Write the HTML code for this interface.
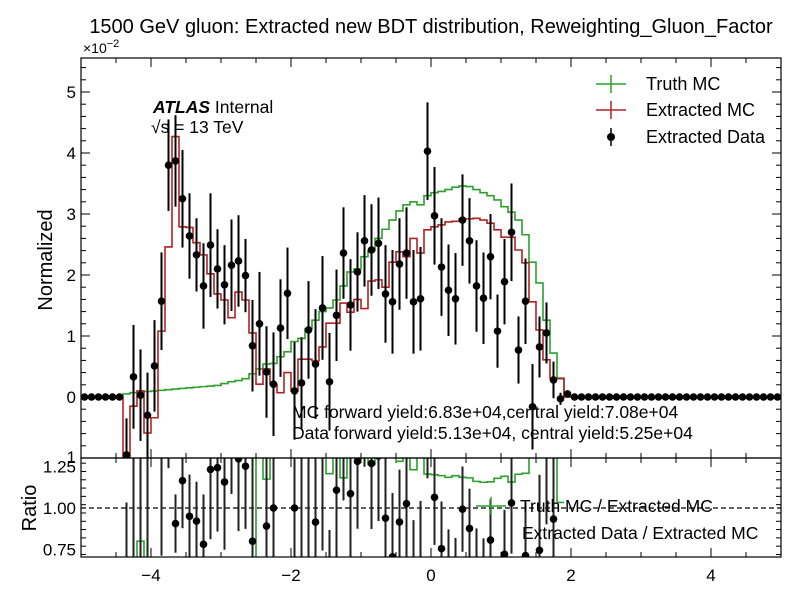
<!DOCTYPE html>
<html><head><meta charset="utf-8">
<style>
html,body{margin:0;padding:0;background:#fff;overflow:hidden;width:799px;height:599px;}
svg{display:block;font-family:"Liberation Sans",sans-serif;}
</style></head>
<body>
<svg id="chart" width="799" height="599" viewBox="0 0 799 599">
<defs>
<clipPath id="cm"><rect x="81" y="58" width="700" height="400"/></clipPath>
<clipPath id="cr"><rect x="81" y="458" width="700" height="99"/></clipPath>
</defs>
<text x="431" y="33" font-size="20" text-anchor="middle">1500 GeV gluon: Extracted new BDT distribution, Reweighting_Gluon_Factor</text>
<text x="83" y="53" font-size="14">×10<tspan dy="-6" font-size="11">−2</tspan></text>
<text transform="translate(52,260) rotate(-90)" font-size="20" text-anchor="middle">Normalized</text>
<text transform="translate(36,508) rotate(-90)" font-size="20" text-anchor="middle">Ratio</text>
<g id="axes"></g>
<g id="main" clip-path="url(#cm)"></g>
<g id="ratio" clip-path="url(#cr)"></g>
<rect x="81" y="58" width="700" height="400" fill="none" stroke="#000" stroke-width="1.2"/>
<rect x="81" y="458" width="700" height="99" fill="none" stroke="#000" stroke-width="1.2"/>
<text x="153" y="113" font-size="17.5" font-weight="bold" font-style="italic">ATLAS <tspan font-weight="normal" font-style="normal">Internal</tspan></text>
<text x="151" y="133" font-size="17.5">√s =  13 TeV</text>
<text x="292" y="418" font-size="17.5">MC forward yield:6.83e+04,central yield:7.08e+04</text>
<text x="292" y="439" font-size="17.5">Data forward yield:5.13e+04, central yield:5.25e+04</text>
<g>
<g>
<line x1="596" y1="84" x2="626" y2="84" stroke="#2ca02c" stroke-width="1.5"/><line x1="611" y1="75" x2="611" y2="93" stroke="#2ca02c" stroke-width="1.5"/>
<text x="646" y="90" font-size="18">Truth MC</text></g>
<g>
<line x1="596" y1="110" x2="626" y2="110" stroke="#b22222" stroke-width="1.5"/><line x1="611" y1="101" x2="611" y2="119" stroke="#b22222" stroke-width="1.5"/>
<text x="646" y="116" font-size="18">Extracted MC</text></g>
<g>
<line x1="611" y1="128" x2="611" y2="146" stroke="#000" stroke-width="1.5"/><circle cx="611" cy="137" r="4" fill="#000"/>
<text x="646" y="143" font-size="18">Extracted Data</text></g>
</g>
<g>
<g>
<line x1="476" y1="506" x2="506" y2="506" stroke="#2ca02c" stroke-width="1.5"/><line x1="491" y1="497" x2="491" y2="515" stroke="#2ca02c" stroke-width="1.5"/>
<text x="520" y="512" font-size="17.5">Truth MC / Extracted MC</text></g>
<g>
<text x="522" y="539" font-size="17.5">Extracted Data / Extracted MC</text></g>
</g>
</svg>
<script>
const binLow = -5, binWidth = 0.1;
const dataVals = [0,0,0,0,0,0,-0.95,0.33,0.03,-0.30,0.51,1.57,3.80,3.87,3.25,2.64,2.33,1.82,2.49,2.10,1.84,2.16,2.23,1.99,0.84,1.20,0.41,0.21,1.13,1.70,0.10,0.23,1.10,0.54,1.46,0.25,1.34,2.36,1.51,2.05,2.56,2.41,2.52,1.69,1.56,2.18,2.36,1.56,1.61,4.03,2.97,2.13,1.75,1.61,2.90,2.56,1.82,1.62,2.30,1.08,1.89,2.70,0.77,1.57,-0.16,0.82,1.05,0.28,-0.03,0.05,0,0,0,0,0,0,0,0,0,0,0,0,0,0,0,0,0,0,0,0,0,0,0,0,0,0,0,0,0,0];
const dataErr = [0.02,0.02,0.02,0.02,0.02,0.02,0.6,0.85,0.75,0.7,0.75,0.8,0.75,0.75,0.8,0.7,0.6,0.7,0.85,0.65,0.65,0.75,0.75,0.6,0.75,0.85,0.75,0.85,0.8,0.75,0.8,0.75,0.8,0.9,0.85,0.8,0.75,0.75,0.75,0.65,0.75,0.75,0.75,0.8,0.85,0.75,0.75,0.85,0.85,0.8,0.8,0.8,0.75,0.75,0.75,0.7,0.75,0.75,0.7,0.6,0.7,0.8,0.55,0.7,0.7,0.5,0.5,0.3,0.1,0.03,0.02,0.02,0.02,0.02,0.02,0.02,0.02,0.02,0.02,0.02,0.02,0.02,0.02,0.02,0.02,0.02,0.02,0.02,0.02,0.02,0.02,0.02,0.02,0.02,0.02,0.02,0.02,0.02,0.02,0.02];
const extractedMC = [0,0,0,0,0,0,-1.5,-0.15,0.10,-0.59,-0.34,1.08,2.46,4.27,2.79,2.78,2.53,2.33,2.02,1.69,1.59,1.30,1.72,1.59,1.05,0.21,0.46,0.21,0.07,0.40,0.10,0.62,0.62,0.59,0.82,1.21,1.21,1.54,1.39,1.60,1.45,1.90,1.92,1.80,2.21,2.38,2.30,2.60,2.36,2.74,2.79,2.82,2.87,2.88,2.92,2.92,2.93,2.90,2.85,2.74,2.62,2.62,2.41,2.20,1.56,1.10,0.61,0.30,0.30,0,0,0,0,0,0,0,0,0,0,0,0,0,0,0,0,0,0,0,0,0,0,0,0,0,0,0,0,0,0,0];
const truthMC = [0,0,0,0,0,0,0.05,0.07,0.08,0.09,0.10,0.11,0.12,0.13,0.14,0.15,0.16,0.17,0.18,0.19,0.22,0.25,0.27,0.30,0.38,0.46,0.54,0.55,0.66,0.74,0.91,0.96,1.12,1.26,1.40,1.46,1.59,1.82,2.05,2.10,2.30,2.40,2.60,2.75,2.90,3.05,3.15,3.20,3.15,3.30,3.35,3.37,3.40,3.44,3.46,3.45,3.40,3.35,3.30,3.23,3.12,3.03,2.90,2.66,2.21,1.87,1.26,0.72,0.31,0,0,0,0,0,0,0,0,0,0,0,0,0,0,0,0,0,0,0,0,0,0,0,0,0,0,0,0,0,0,0];
const xTicks = [-4,-2,0,2,4];
const yTicks = [0,1,2,3,4,5];
const rTicks = [0.75,1.00,1.25];

const NS = "http://www.w3.org/2000/svg";
const X = v => 81 + (v + 5) * 70;
const Y = v => 397 - v * 61;
const R = r => 508 - (r - 1) * 166;
const clampM = y => Math.max(56, Math.min(460, y));
const clampR = y => Math.max(456, Math.min(559, y));
function mk(tag, attrs, parent){ const e=document.createElementNS(NS,tag); for(const k in attrs) e.setAttribute(k,attrs[k]); parent.appendChild(e); return e; }
const axes=document.getElementById('axes'), main=document.getElementById('main'), ratio=document.getElementById('ratio');

for(let v=-5; v<=5.001; v+=0.5){
  const major = Math.abs(v/2 - Math.round(v/2))<1e-6;
  const L = major?9:5, x=X(v);
  [[458,-1],[58,1],[557,-1],[458,1]].forEach(([y0,d])=>{
    const t=mk('line',{x1:x,x2:x,y1:y0,y2:y0+d*L,stroke:'#000','stroke-width':1},axes);
    
    
  });
}
xTicks.forEach(v=>{ const t=mk('text',{x:X(v),y:581,'font-size':17,'text-anchor':'middle'},axes); t.textContent=(v<0?'−':'')+Math.abs(v);
  
   });
for(let v=-1; v<=5.5; v+=0.2){
  const major=Math.abs(v-Math.round(v))<1e-6, L=major?9:5, y=Y(v);
  if(y<58||y>458) continue;
  mk('line',{x1:81,x2:81+L,y1:y,y2:y,stroke:'#000'},axes);
  mk('line',{x1:781,x2:781-L,y1:y,y2:y,stroke:'#000'},axes);
}
yTicks.forEach(v=>{ const t=mk('text',{x:76,y:Y(v)+6,'font-size':17,'text-anchor':'end'},axes); t.textContent=v;
  
   });
const tm=mk('text',{x:76,y:463,'font-size':17,'text-anchor':'end'},axes); tm.textContent='1';
for(let r=0.72; r<=1.3; r+=0.05){
  const rr=Math.round(r*100)/100; const y=R(rr); if(y<458||y>557) continue;
  const major=[0.75,1,1.25].includes(rr), L=major?9:5;
  mk('line',{x1:81,x2:81+L,y1:y,y2:y,stroke:'#000'},axes);
  mk('line',{x1:781,x2:781-L,y1:y,y2:y,stroke:'#000'},axes);
}
rTicks.forEach(v=>{ const t=mk('text',{x:76,y:R(v)+6,'font-size':17,'text-anchor':'end'},axes); t.textContent=v.toFixed(2);
  
   });

function stepPath(vals, f, from, to){
  let d='';
  for(let i=from;i<=to;i++){ const x0=X(binLow+i*binWidth), x1=X(binLow+(i+1)*binWidth), y=clampM(f(vals[i]));
    d += (i===from?'M':'L')+x0+','+y+'L'+x1+','+y; }
  return d;
}
const gp=mk('path',{d:stepPath(truthMC,Y,0,99),fill:'none',stroke:'#2ca02c','stroke-width':1.6},main);


const rp=mk('path',{d:stepPath(extractedMC,Y,0,99),fill:'none',stroke:'#b22222','stroke-width':1.6},main);


dataVals.forEach((v,i)=>{
  const cx=X(binLow+(i+0.5)*binWidth);
  const l=mk('line',{x1:cx,x2:cx,y1:clampM(Y(v-dataErr[i])),y2:clampM(Y(v+dataErr[i])),stroke:'#000','stroke-width':2},main);
  
  
  const c=mk('circle',{cx:cx,cy:Y(v),r:3.8,fill:'#000'},main);
  
  
});
const dl=mk('line',{x1:81,x2:781,y1:R(1),y2:R(1),stroke:'#000','stroke-width':1.3,'stroke-dasharray':'5,3'},ratio);


const truthRatio = truthMC.map((g,i)=> extractedMC[i]!==0 ? g/extractedMC[i] : 1);
let rd='';
for(let i=6;i<=68;i++){ const x0=X(binLow+i*binWidth), x1=X(binLow+(i+1)*binWidth); const y=clampR(R(truthRatio[i]));
  rd += (i===6?'M':'L')+x0+','+y+'L'+x1+','+y; }
const grp=mk('path',{d:rd,fill:'none',stroke:'#2ca02c','stroke-width':1.6},ratio);


dataVals.forEach((v,i)=>{
  const m=extractedMC[i]; if(m===0) return;
  const r=v/m, e=Math.abs(dataErr[i]/m), cx=X(binLow+(i+0.5)*binWidth);
  const y1=clampR(R(r-e)), y2=clampR(R(r+e));
  if(y1===y2) return;
  const l=mk('line',{x1:cx,x2:cx,y1:y1,y2:y2,stroke:'#222','stroke-width':2},ratio);
  
  
  const cy=R(r);
  if(cy<450||cy>565) return;
  const c=mk('circle',{cx:cx,cy:cy,r:3.8,fill:'#000'},ratio);
  
  
});
</script>
</body></html>
